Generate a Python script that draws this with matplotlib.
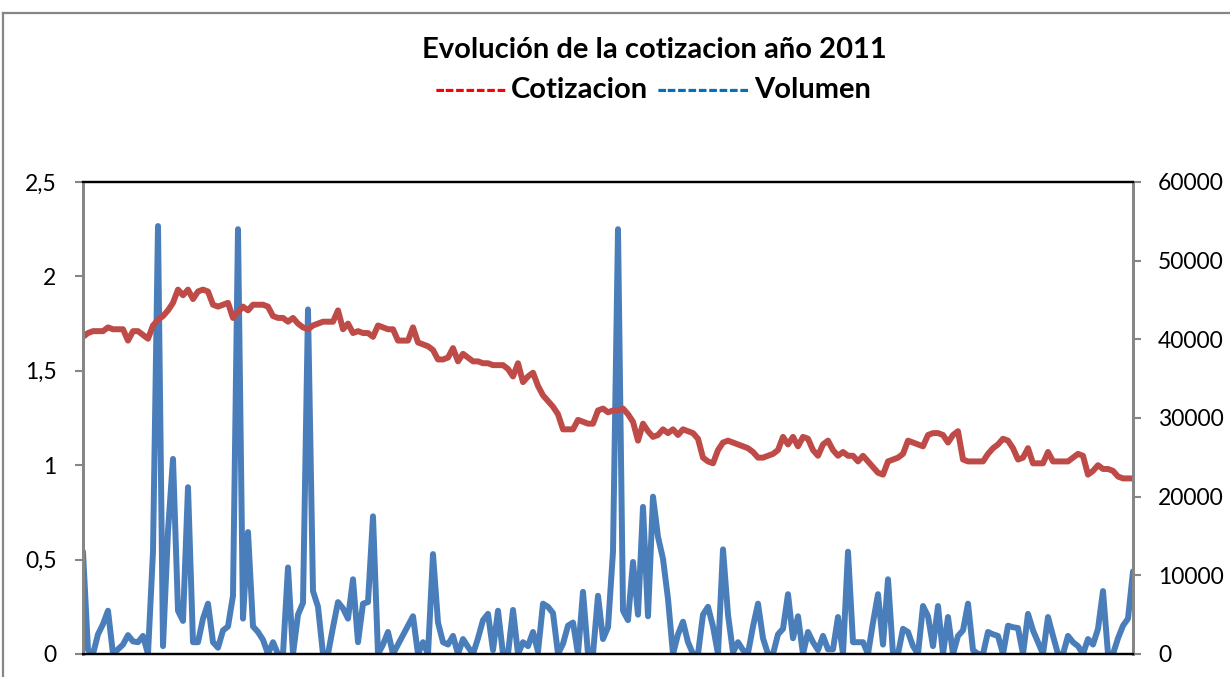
import matplotlib
matplotlib.use("Agg")
import matplotlib.pyplot as plt
from matplotlib.lines import Line2D

# cotizacion (left axis), one value per session
cotizacion = [
    1.68, 1.70, 1.71, 1.71, 1.71, 1.73, 1.72, 1.72, 1.72, 1.66,
    1.71, 1.71, 1.69, 1.67, 1.74, 1.77, 1.79, 1.82, 1.86, 1.93,
    1.90, 1.93, 1.88, 1.92, 1.93, 1.92, 1.85, 1.84, 1.85, 1.86,
    1.78, 1.81, 1.84, 1.82, 1.85, 1.85, 1.85, 1.84, 1.79, 1.78,
    1.78, 1.76, 1.78, 1.75, 1.73, 1.72, 1.74, 1.75, 1.76, 1.76,
    1.76, 1.82, 1.72, 1.75, 1.70, 1.71, 1.70, 1.70, 1.68, 1.74,
    1.73, 1.72, 1.72, 1.66, 1.66, 1.66, 1.73, 1.65, 1.64, 1.63,
    1.61, 1.56, 1.56, 1.57, 1.62, 1.55, 1.59, 1.57, 1.55, 1.55,
    1.54, 1.54, 1.53, 1.53, 1.53, 1.51, 1.47, 1.54, 1.44, 1.47,
    1.49, 1.42, 1.37, 1.34, 1.31, 1.27, 1.19, 1.19, 1.19, 1.24,
    1.23, 1.22, 1.22, 1.29, 1.30, 1.28, 1.29, 1.29, 1.30, 1.27,
    1.23, 1.13, 1.22, 1.18, 1.15, 1.16, 1.19, 1.17, 1.19, 1.16,
    1.19, 1.18, 1.17, 1.14, 1.04, 1.02, 1.01, 1.08, 1.12, 1.13,
    1.12, 1.11, 1.10, 1.09, 1.07, 1.04, 1.04, 1.05, 1.06, 1.08,
    1.15, 1.11, 1.15, 1.10, 1.15, 1.14, 1.08, 1.05, 1.11, 1.13,
    1.08, 1.05, 1.07, 1.05, 1.05, 1.02, 1.05, 1.02, 0.99, 0.96,
    0.95, 1.02, 1.03, 1.04, 1.06, 1.13, 1.12, 1.11, 1.10, 1.16,
    1.17, 1.17, 1.16, 1.12, 1.16, 1.18, 1.03, 1.02, 1.02, 1.02,
    1.02, 1.06, 1.09, 1.11, 1.14, 1.13, 1.09, 1.03, 1.04, 1.09,
    1.01, 1.01, 1.01, 1.07, 1.02, 1.02, 1.02, 1.02, 1.04, 1.06,
    1.05, 0.95, 0.97, 1.00, 0.98, 0.98, 0.97, 0.94, 0.93, 0.93,
    0.93,
]

# volumen (right axis)
volumen = [
    13000, 500, 0, 2500, 3800, 5500, 0, 600, 1200, 2400,
    1600, 1500, 2300, 0, 13000, 54400, 1000, 15600, 24800, 5500,
    4200, 21200, 1500, 1500, 4500, 6400, 1500, 800, 3000, 3500,
    7400, 54000, 4500, 15500, 3500, 2800, 1800, 0, 1500, 0,
    0, 11000, 0, 5000, 6500, 43800, 8000, 6000, 0, 0,
    3400, 6600, 5800, 4500, 9500, 1500, 6400, 6600, 17500, 0,
    1200, 2800, 0, 1200, 2400, 3600, 4800, 0, 1500, 0,
    12700, 4000, 1500, 1200, 2300, 0, 1900, 900, 0, 2000,
    4300, 5100, 500, 5500, 0, 0, 5600, 0, 1500, 1000,
    2800, 300, 6400, 6000, 5200, 0, 1300, 3600, 4000, 0,
    7900, 0, 0, 7400, 1900, 3400, 13000, 54000, 5500, 4300,
    11700, 5000, 18700, 4800, 20000, 14900, 12100, 7000, 0, 2500,
    4100, 1500, 0, 0, 5000, 6000, 3500, 0, 13300, 5000,
    200, 1500, 500, 100, 3500, 6400, 2000, 0, 0, 2500,
    3200, 7600, 2000, 4800, 0, 2800, 1500, 500, 2300, 600,
    600, 4700, 0, 13000, 1500, 1500, 1500, 0, 4000, 7600,
    1200, 9500, 0, 0, 3200, 2800, 1000, 0, 6100, 4800,
    1000, 6100, 0, 4700, 0, 2300, 3000, 6400, 500, 0,
    0, 2800, 2500, 2300, 0, 3600, 3400, 3300, 0, 5100,
    3000, 1500, 0, 4700, 2300, 0, 0, 2300, 1500, 1000,
    0, 1900, 1200, 3200, 8000, 0, 0, 2000, 3600, 4500,
    10500,
]

left_ticks = [0, 0.5, 1, 1.5, 2, 2.5]
left_labels = ["0", "0,5", "1", "1,5", "2", "2,5"]
right_ticks = [0, 10000, 20000, 30000, 40000, 50000, 60000]

W, H = 1230, 677
fig = plt.figure(figsize=(W / 100, H / 100), dpi=100)
fig.patch.set_facecolor("white")

def fx(px):
    return px / W

def fy(py):
    return 1 - py / H

# outer chart frame (only top and left edges are inside the crop)
fig.add_artist(Line2D([fx(3), fx(3)], [fy(13), fy(700)], color="#868686", lw=1.6))
fig.add_artist(Line2D([fx(3), fx(1240)], [fy(13), fy(13)], color="#868686", lw=1.6))

ax = fig.add_axes([fx(83), fy(654), fx(1133) - fx(83), fy(182) - fy(654)])
ax2 = ax.twinx()

x = list(range(len(cotizacion)))
ax2.plot(x, volumen, color="#4A7EBB", lw=4.3, solid_joinstyle="round", solid_capstyle="round")
ax.plot(x, cotizacion, color="#BE4B48", lw=4.3, solid_joinstyle="round", solid_capstyle="round")

# price axis drawn above volume axis
ax.set_zorder(ax2.get_zorder() + 1)
ax.patch.set_visible(False)

ax.set_xlim(0, len(x) - 1)
ax.set_ylim(0, 2.5)
ax2.set_ylim(0, 60000)

font = "Lato"
ax.set_yticks(left_ticks)
ax.set_yticklabels(left_labels, fontsize=16.5, family=font)
ax2.set_yticks(right_ticks)
ax2.set_yticklabels([str(t) for t in right_ticks], fontsize=16.5, family=font)
ax.set_xticks([])

ax.tick_params(axis="y", direction="out", length=6, width=1.5, color="#868686", pad=13)
ax2.tick_params(axis="y", direction="out", length=6, width=1.5, color="#868686", pad=12)

for a in (ax, ax2):
    a.spines["left"].set_color("#868686")
    a.spines["right"].set_color("#868686")
    a.spines["left"].set_linewidth(2)
    a.spines["right"].set_linewidth(2)
    a.spines["top"].set_color("black")
    a.spines["bottom"].set_color("black")
    a.spines["top"].set_linewidth(1.6)
    a.spines["bottom"].set_linewidth(1.6)

# title and the in-title legend
fig.text(fx(654), fy(50), "Evolución de la cotizacion año 2011", ha="center", va="center",
         fontsize=21, fontweight="bold", family=font)
fig.text(fx(435), fy(90), "-------", ha="left", va="center", fontsize=18,
         fontweight="bold", family="DejaVu Sans", color="#FF0000")
fig.text(fx(511), fy(90), "Cotizacion", ha="left", va="center", fontsize=21,
         fontweight="bold", family=font)
fig.text(fx(657), fy(90), "---------", ha="left", va="center", fontsize=18,
         fontweight="bold", family="DejaVu Sans", color="#0070C0")
fig.text(fx(754), fy(90), "Volumen", ha="left", va="center", fontsize=21,
         fontweight="bold", family=font)

fig.savefig("out.png", dpi=100, facecolor="white")
